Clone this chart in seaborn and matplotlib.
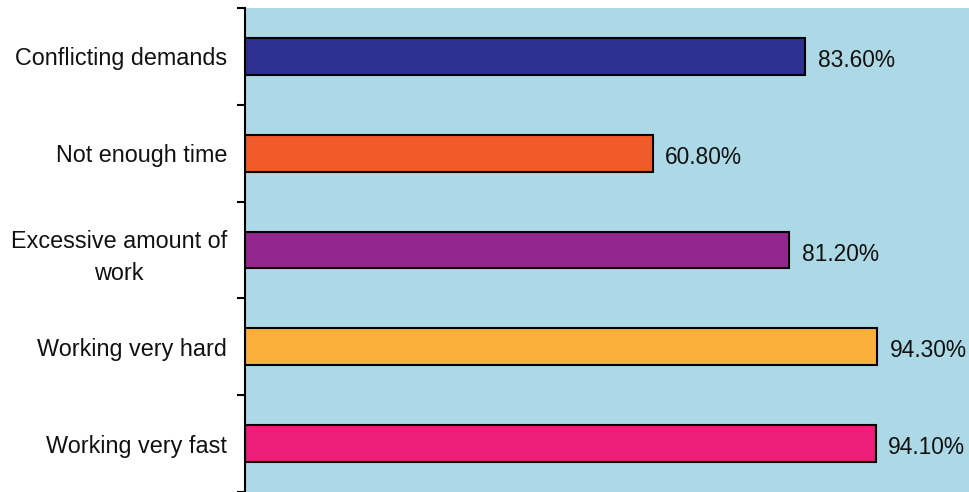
import matplotlib
matplotlib.use("Agg")
import matplotlib.pyplot as plt
import matplotlib.transforms as mtransforms
import seaborn as sns
import pandas as pd
import numpy as np

categories = ["Conflicting demands", "Not enough time", "Excessive amount of\nwork",
              "Working very hard", "Working very fast"]
values = [83.6, 60.8, 81.2, 94.3, 94.1]
value_labels = ["83.60%", "60.80%", "81.20%", "94.30%", "94.10%"]
colors = ["#2E3192", "#F15A29", "#92278F", "#FBB03B", "#ED1E79"]

sns.set_style("white")
plt.rcParams['font.family'] = ['Liberation Sans', 'DejaVu Sans']

df = pd.DataFrame({"category": categories, "value": values})

fig = plt.figure(figsize=(9.69, 4.92), dpi=100)
ax = fig.add_axes([245/969, 0.0, 1 - 245/969, 1 - 8/492])
ax.set_facecolor("#ADD8E6")

sns.barplot(data=df, y="category", x="value", hue="category", palette=colors,
            order=categories, hue_order=categories, orient="h", width=0.38,
            edgecolor="black", linewidth=1.5, legend=False, ax=ax, saturation=1)

ax.set_xlim(0, 108)
ax.set_ylim(len(categories) - 0.5, -0.5)
ax.set_xlabel("")
ax.set_ylabel("")
ax.set_xticks([])

for i, (v, lab) in enumerate(zip(values, value_labels)):
    ax.annotate(lab, xy=(v, i), xytext=(9, -3), textcoords="offset points",
                va="center", ha="left", fontsize=16.4, color="#111111")

ax.set_yticks(range(len(categories)))
ax.set_yticklabels(categories, fontsize=16.8, multialignment="center", linespacing=1.5,
                   color="#111111")
offset = mtransforms.ScaledTranslation(0, -2/100, fig.dpi_scale_trans)
for t in ax.get_yticklabels():
    t.set_transform(t.get_transform() + offset)
ax.set_yticks(np.arange(-0.5, len(categories)), minor=True)
ax.tick_params(axis="y", which="major", length=0, pad=13)
ax.tick_params(axis="y", which="minor", length=6, width=1.5, direction="out", color="black", left=True)

for s in ["top", "right", "bottom"]:
    ax.spines[s].set_visible(False)
ax.spines["left"].set_color("black")
ax.spines["left"].set_linewidth(1.5)

fig.savefig("out.png", dpi=100)
